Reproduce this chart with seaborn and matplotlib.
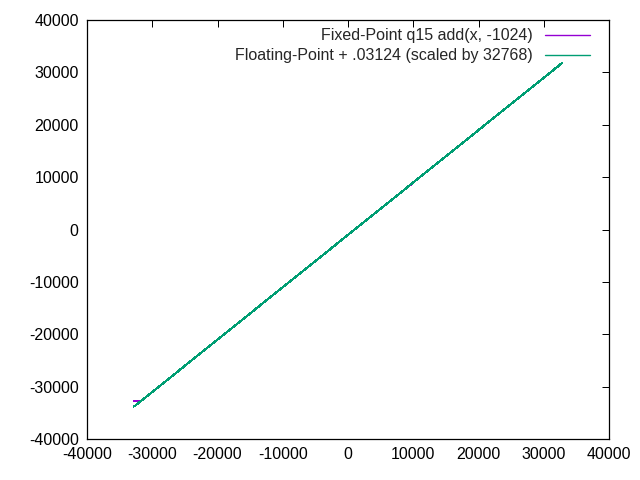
import matplotlib
matplotlib.use("Agg")
import matplotlib.pyplot as plt
import seaborn as sns
import pandas as pd

# Data (segment endpoints)
fixed_x = [-32768, -31744, 32767]
fixed_y = [-32768, -32768, 31743]
float_x = [-32768, 32767]
float_y = [-33792, 31743]

fixed_label = "Fixed-Point q15 add(x, -1024)"
float_label = "Floating-Point + .03124 (scaled by 32768)"

xticks = list(range(-40000, 40001, 10000))
yticks = list(range(-40000, 40001, 10000))

sns.set_style("white")
plt.rcParams['font.family'] = ['Liberation Sans', 'DejaVu Sans']
plt.rcParams['font.size'] = 11.5
plt.rcParams['axes.unicode_minus'] = False

fig = plt.figure(figsize=(6.4, 4.8), dpi=100)
ax = fig.add_axes([87/640, 41/480, (609-87)/640, (439-20)/480])

df_fixed = pd.DataFrame({"x": fixed_x, "y": fixed_y})
df_float = pd.DataFrame({"x": float_x, "y": float_y})

sns.lineplot(data=df_fixed, x="x", y="y", ax=ax, color="#9400d3", lw=0.8,
             label=fixed_label, estimator=None, sort=False, antialiased=False)
sns.lineplot(data=df_float, x="x", y="y", ax=ax, color="#009e73", lw=0.8,
             label=float_label, estimator=None, sort=False, antialiased=False)

ax.set_xlim(-40000, 40000)
ax.set_ylim(-40000, 40000)
ax.set_xticks(xticks)
ax.set_yticks(yticks)
ax.set_xlabel("")
ax.set_ylabel("")
ax.tick_params(direction="in", length=5, width=0.72, top=True, right=True,
               labelsize=11.5, colors="black", pad=6)
for s in ax.spines.values():
    s.set_visible(True)
    s.set_color("black")
    s.set_linewidth(0.9)

leg = ax.legend(loc="upper right", bbox_to_anchor=(0.9636, 0.98), frameon=False,
                markerfirst=False, handlelength=2.8, borderaxespad=0, borderpad=0,
                labelspacing=0.3, handletextpad=0.8)
for h, c in zip(leg.get_lines(), ["#9400d3", "#009e73"]):
    h.set_color(c)
    h.set_linewidth(1.0)
    h.set_antialiased(True)

fig.savefig("out.png", dpi=100)
